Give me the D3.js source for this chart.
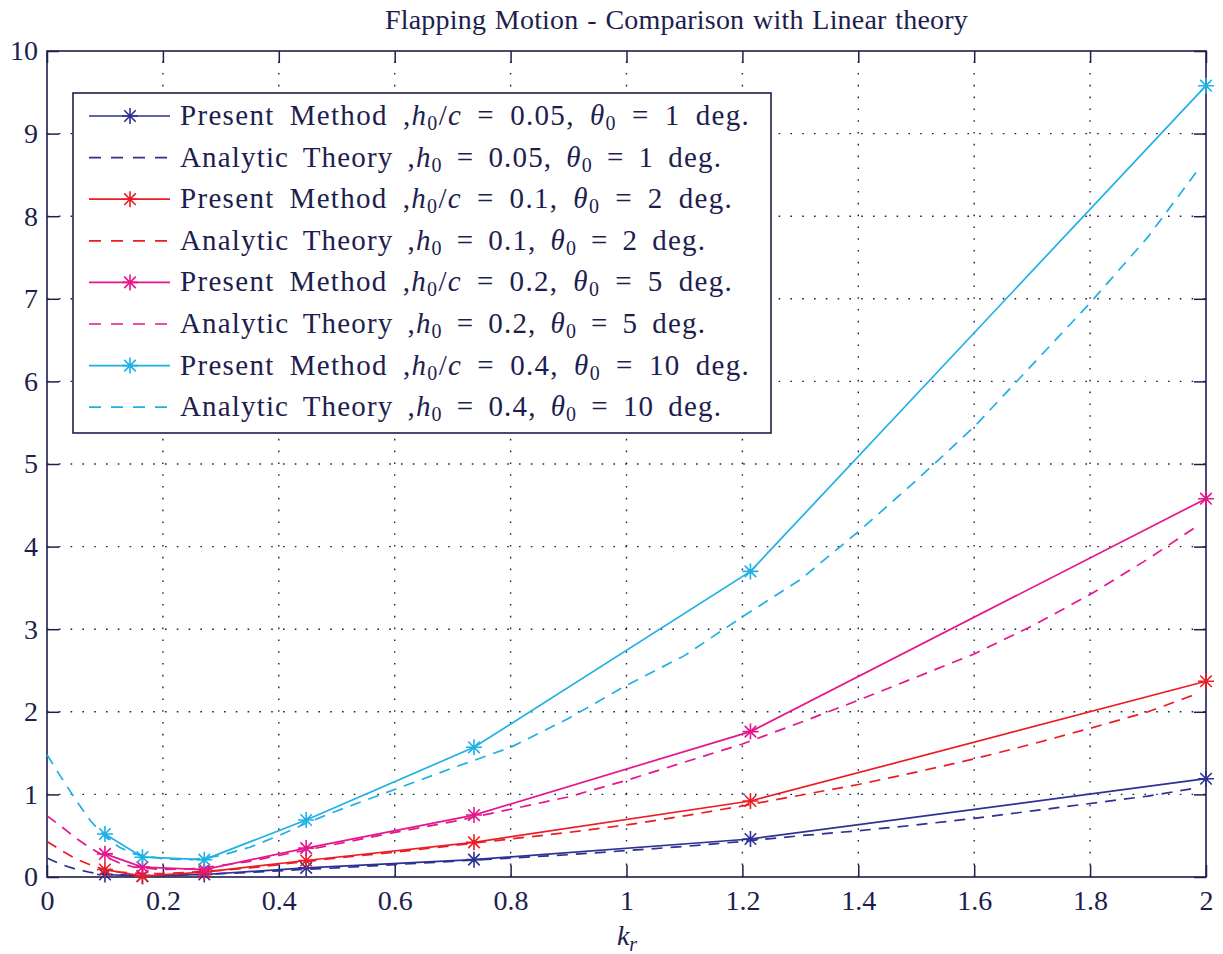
<!DOCTYPE html>
<html><head><meta charset="utf-8">
<script src="https://cdn.jsdelivr.net/npm/d3@7"></script>
<style>
body{margin:0;background:#fff}
svg text{font-family:"Liberation Serif","Times New Roman",Times,serif !important;fill:#1e1e4e}
</style></head>
<body><svg id="c" width="1223" height="954"></svg>
<script>
// ---- data ----
const krPresent = [0.1, 0.1647, 0.2714, 0.4472, 0.7368, 1.2139, 2.0];
const present005 = [0.03, 0.01, 0.03, 0.11, 0.21, 0.46, 1.19];
const present01  = [0.09, 0.01, 0.06, 0.20, 0.42, 0.92, 2.37];
const present02  = [0.28, 0.12, 0.09, 0.35, 0.75, 1.76, 4.58];
const present04  = [0.52, 0.24, 0.21, 0.69, 1.57, 3.70, 9.58];

const krTheory = [0, 0.025, 0.05, 0.075, 0.1, 0.125, 0.15, 0.2, 0.25, 0.3, 0.35, 0.4, 0.45, 0.5, 0.6, 0.7, 0.8, 0.9, 1.0, 1.1, 1.2, 1.3, 1.4, 1.5, 1.6, 1.7, 1.8, 1.9, 1.985];
const theory005 = [0.23, 0.15, 0.095, 0.055, 0.035, 0.025, 0.02, 0.02, 0.03, 0.04, 0.055, 0.075, 0.095, 0.11, 0.15, 0.19, 0.23, 0.27, 0.32, 0.37, 0.43, 0.50, 0.56, 0.63, 0.71, 0.80, 0.89, 0.98, 1.08];
const theory01  = [0.43, 0.32, 0.22, 0.145, 0.09, 0.06, 0.045, 0.04, 0.06, 0.08, 0.11, 0.15, 0.19, 0.23, 0.30, 0.38, 0.46, 0.54, 0.63, 0.74, 0.86, 0.99, 1.12, 1.27, 1.43, 1.61, 1.80, 2.00, 2.22];
const theory02  = [0.74, 0.61, 0.47, 0.35, 0.25, 0.17, 0.12, 0.09, 0.10, 0.14, 0.19, 0.26, 0.33, 0.40, 0.54, 0.67, 0.82, 0.97, 1.17, 1.39, 1.61, 1.87, 2.14, 2.42, 2.70, 3.04, 3.42, 3.85, 4.25];
const theory04  = [1.48, 1.20, 0.93, 0.68, 0.49, 0.36, 0.28, 0.22, 0.21, 0.26, 0.36, 0.50, 0.66, 0.80, 1.06, 1.32, 1.57, 1.92, 2.32, 2.68, 3.15, 3.60, 4.18, 4.80, 5.45, 6.20, 6.95, 7.75, 8.55];

const hValues = ["0.05", "0.1", "0.2", "0.4"];
const thetaValues = ["1", "2", "5", "10"];
const seriesColors = ["#2e3192", "#ec1c24", "#e5168c", "#1fb0e4"];
const xTicks = [0, 0.2, 0.4, 0.6, 0.8, 1, 1.2, 1.4, 1.6, 1.8, 2];
const yTicks = [0, 1, 2, 3, 4, 5, 6, 7, 8, 9, 10];
const titleText = "Flapping Motion - Comparison with Linear theory";

// ---- layout ----
const svg = d3.select("#c");
const L = 47, R = 1206, T = 51, B = 877;
const x = d3.scaleLinear().domain([0, 2]).range([L, R]);
const y = d3.scaleLinear().domain([0, 10]).range([B, T]);
const ink = "#1e1e4e";
const serif = '"Liberation Serif","Times New Roman",Times,serif';

// grid
const g = svg.append("g");
g.selectAll(".gx").data(xTicks.filter(d => d > 0 && d < 2)).enter().append("line")
  .attr("x1", d => x(d)).attr("x2", d => x(d)).attr("y1", B).attr("y2", T)
  .attr("stroke", ink).attr("stroke-width", 1.4).attr("stroke-dasharray", "1.6,10.2");
g.selectAll(".gy").data(yTicks.filter(d => d > 0 && d < 10)).enter().append("line")
  .attr("y1", d => y(d)).attr("y2", d => y(d)).attr("x1", L).attr("x2", R)
  .attr("stroke", ink).attr("stroke-width", 1.4).attr("stroke-dasharray", "1.6,10.2");

// axes (MATLAB box with inner ticks)
const tk = 12;
const fmt = d => String(d);
svg.append("g").attr("transform", `translate(0,${B})`)
  .call(d3.axisBottom(x).tickValues(xTicks).tickSize(-tk).tickPadding(13).tickFormat(fmt))
  .call(a => a.select(".domain").remove());
svg.append("g").attr("transform", `translate(0,${T})`)
  .call(d3.axisTop(x).tickValues(xTicks).tickSize(-tk).tickFormat(""))
  .call(a => a.select(".domain").remove());
svg.append("g").attr("transform", `translate(${L},0)`)
  .call(d3.axisLeft(y).tickValues(yTicks).tickSize(-tk).tickPadding(9).tickFormat(fmt))
  .call(a => a.select(".domain").remove());
svg.append("g").attr("transform", `translate(${R},0)`)
  .call(d3.axisRight(y).tickValues(yTicks).tickSize(-tk).tickFormat(""))
  .call(a => a.select(".domain").remove());
svg.selectAll("g").attr("font-family", serif);
svg.selectAll(".tick line").attr("stroke", ink).attr("stroke-width", 1.5);
svg.selectAll(".tick text").attr("font-family", serif).attr("font-size", 28).attr("fill", ink);
svg.append("rect").attr("x", L).attr("y", T).attr("width", R - L).attr("height", B - T)
  .attr("fill", "none").attr("stroke", ink).attr("stroke-width", 1.6);

// series
const theories = [theory005, theory01, theory02, theory04];
const presents = [present005, present01, present02, present04];
const lineGen = d3.line().x(d => x(d[0])).y(d => y(d[1]));
const plot = svg.append("g");

function star(sel, cx, cy, r, color) {
  const a = r * 0.72;
  const p = `M${cx - r},${cy}L${cx + r},${cy}M${cx},${cy - r}L${cx},${cy + r}M${cx - a},${cy - a}L${cx + a},${cy + a}M${cx - a},${cy + a}L${cx + a},${cy - a}`;
  sel.append("path").attr("d", p).attr("stroke", color).attr("stroke-width", 1.6).attr("fill", "none");
}

theories.forEach((arr, i) => {
  plot.append("path").datum(krTheory.map((k, j) => [k, arr[j]]))
    .attr("d", lineGen).attr("fill", "none").attr("stroke", seriesColors[i])
    .attr("stroke-width", 1.7).attr("stroke-dasharray", "11,8");
});
presents.forEach((arr, i) => {
  const pts = krPresent.map((k, j) => [k, arr[j]]);
  plot.append("path").datum(pts).attr("d", lineGen).attr("fill", "none")
    .attr("stroke", seriesColors[i]).attr("stroke-width", 1.7);
  pts.forEach(p => star(plot, x(p[0]), y(p[1]), 8, seriesColors[i]));
});

// fit a text element to a target width via letter/word spacing
function fit(t, target) {
  const node = t.node();
  const w = node.getComputedTextLength();
  const txt = node.textContent;
  const n = txt.length;
  const spaces = (txt.match(/ /g) || []).length;
  const extra = target - w;
  if (extra > 0 && spaces > 0) {
    t.attr("letter-spacing", extra * 0.5 / n).attr("word-spacing", extra * 0.5 / spaces);
  } else if (n > 1) t.attr("letter-spacing", extra / n);
}

// title
const tt = svg.append("text").attr("x", 385).attr("y", 29).attr("font-size", 28).text(titleText);
fit(tt, 583);

// x label
const xl = svg.append("text").attr("x", 627).attr("y", 945).attr("text-anchor", "middle").attr("font-size", 28);
xl.append("tspan").attr("font-style", "italic").text("k");
xl.append("tspan").attr("font-style", "italic").attr("font-size", 20).attr("dy", 6).text("r");

// legend
const lg = svg.append("g");
const lx = 73, ly = 93, lw = 698, lh = 340;
lg.append("rect").attr("x", lx).attr("y", ly).attr("width", lw).attr("height", lh)
  .attr("fill", "#fff").attr("stroke", ink).attr("stroke-width", 1.6);
const rowH = 41.6;
const rowEnds = [750, 722, 733, 706, 733, 706, 750, 722];
for (let i = 0; i < 8; i++) {
  const s = Math.floor(i / 2), isTheory = i % 2 === 1;
  const cy = 116 + i * rowH;
  const ln = lg.append("line").attr("x1", 89).attr("x2", 170).attr("y1", cy).attr("y2", cy)
    .attr("stroke", seriesColors[s]).attr("stroke-width", 1.7);
  if (isTheory) ln.attr("stroke-dasharray", "12,10");
  else star(lg, 130, cy, 8, seriesColors[s]);
  const t = lg.append("text").attr("x", 180).attr("y", cy + 9).attr("font-size", 29);
  t.append("tspan").text(isTheory ? "Analytic Theory" : "Present Method");
  t.append("tspan").text(" ,");
  t.append("tspan").attr("font-style", "italic").text("h");
  t.append("tspan").attr("font-size", 20).attr("dy", 5).text("0");
  if (isTheory) {
    t.append("tspan").attr("dy", -5).text(" = " + hValues[s] + ", ");
  } else {
    t.append("tspan").attr("dy", -5).text("/");
    t.append("tspan").attr("font-style", "italic").text("c");
    t.append("tspan").text(" = " + hValues[s] + ", ");
  }
  t.append("tspan").attr("font-style", "italic").text("θ");
  t.append("tspan").attr("font-size", 20).attr("dy", 5).text("0");
  t.append("tspan").attr("dy", -5).text(" = " + thetaValues[s] + " deg.");
  fit(t, rowEnds[i] - 180);
}
</script></body></html>
